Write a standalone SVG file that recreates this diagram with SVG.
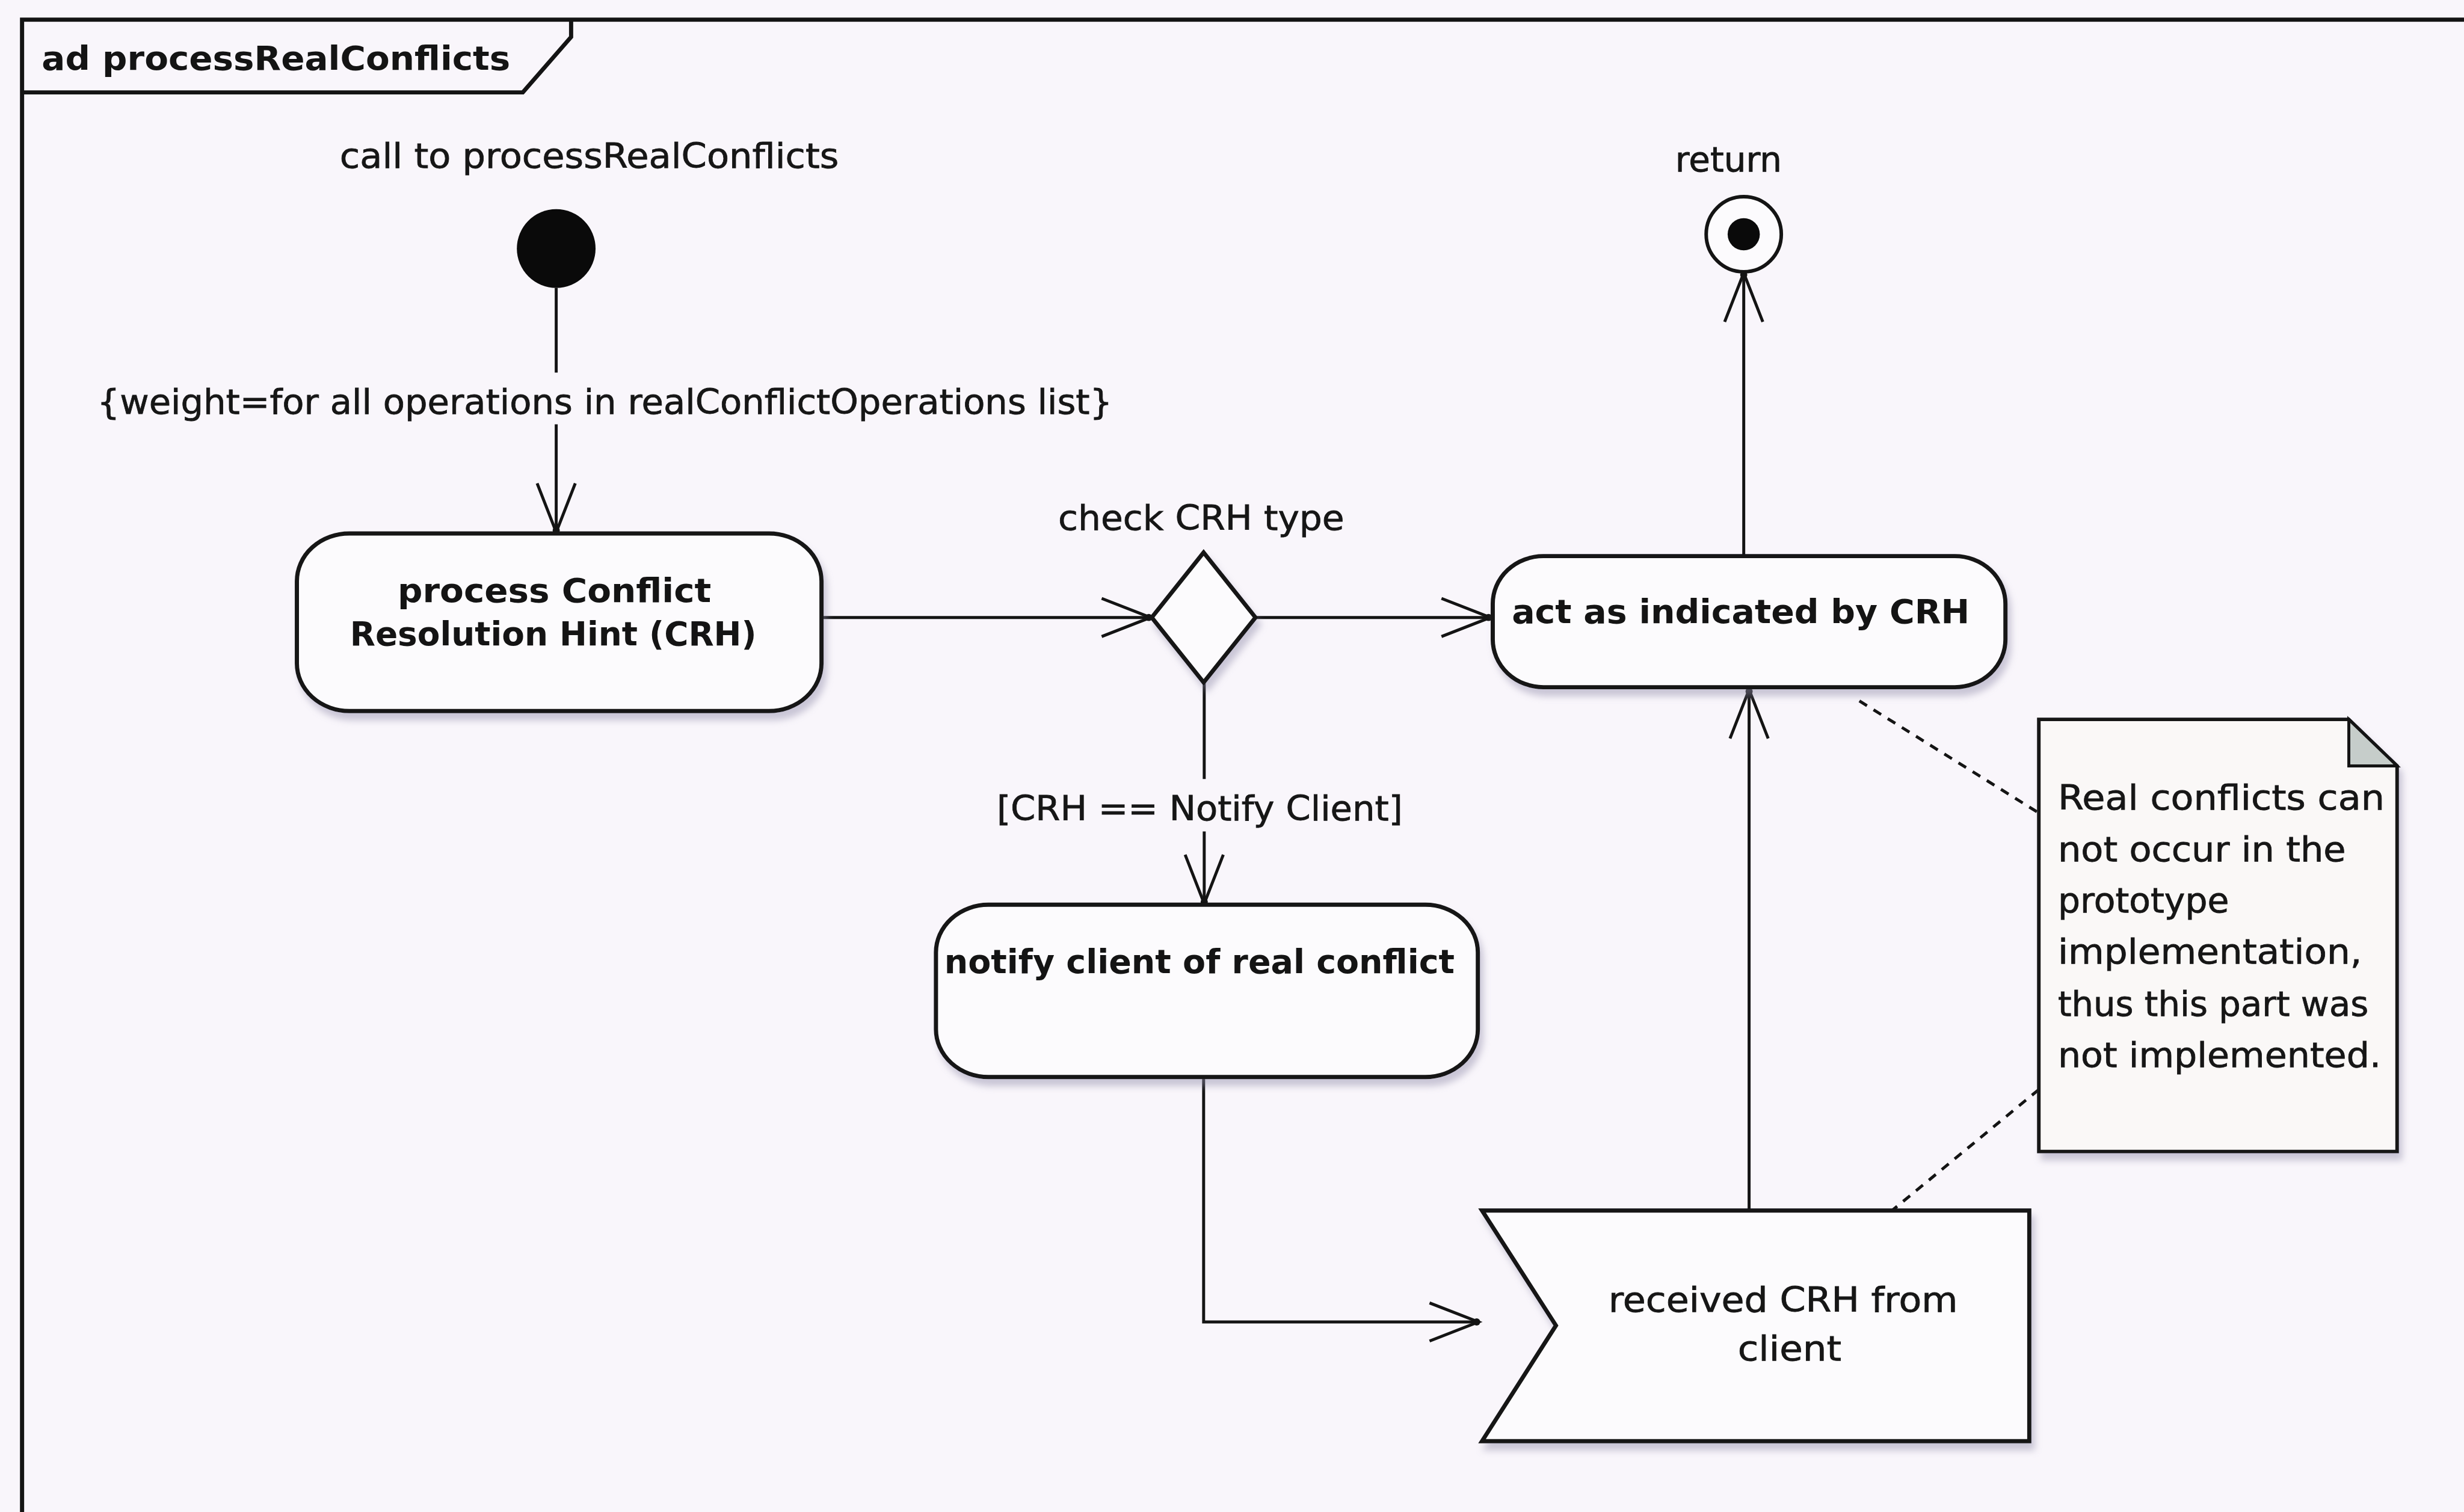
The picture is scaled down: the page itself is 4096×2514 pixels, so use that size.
<svg xmlns="http://www.w3.org/2000/svg" width="4096" height="2514" viewBox="0 0 4096 2514">
  <defs>
    <style>
      .frame { fill: none; stroke: #141414; stroke-width: 7; }
      .node { fill: #fcfbfd; stroke: #141414; stroke-width: 7; filter: url(#shadow); }
      .edge { fill: none; stroke: #141414; stroke-width: 5; }
      .dash { fill: none; stroke: #141414; stroke-width: 5; stroke-dasharray: 15 13; }
      .lbl { font-family: "DejaVu Sans", "Liberation Sans", sans-serif; font-size: 57px; fill: #161616; stroke: #161616; stroke-width: 0.8; }
      .bold { font-family: "DejaVu Sans", "Liberation Sans", sans-serif; font-size: 56px; font-weight: bold; fill: #141414; }
    </style>
    <filter id="shadow" x="-10%" y="-10%" width="130%" height="140%">
      <feDropShadow dx="6" dy="12" stdDeviation="6" flood-color="#8e8aa8" flood-opacity="0.45"/>
    </filter>
    <marker id="arrow" viewBox="-90 -40 100 80" refX="0" refY="0" markerWidth="100" markerHeight="80" markerUnits="userSpaceOnUse" orient="auto" overflow="visible">
      <path d="M-82,-32 L0,0 L-82,32" fill="none" stroke="#141414" stroke-width="5"/>
      <circle cx="-3" cy="0" r="6" fill="#141414"/>
    </marker>
  </defs>

  <rect width="4096" height="2514" fill="#f9f6fb"/>

  <g transform="scale(0.991)">
    <!-- diagram frame with name tab -->
    <g id="frame">
      <rect x="37" y="33" width="4300" height="2700" class="frame"/>
      <path d="M37 155 H877 L958 62 V33" class="frame"/>
      <text x="70" y="117" class="bold" textLength="786" lengthAdjust="spacingAndGlyphs">ad processRealConflicts</text>
    </g>

    <!-- control flows -->
    <g id="connectors">
      <path d="M933 483 V625" class="edge"/>
      <path d="M933 712 V893" class="edge" marker-end="url(#arrow)"/>
      <path d="M1378 1036 H1930" class="edge" marker-end="url(#arrow)"/>
      <path d="M2105 1036 H2500" class="edge" marker-end="url(#arrow)"/>
      <path d="M2925 933 V458" class="edge" marker-end="url(#arrow)"/>
      <path d="M2020 1143 V1307" class="edge"/>
      <path d="M2020 1395 V1516" class="edge" marker-end="url(#arrow)"/>
      <path d="M2019 1807 V2218 H2480" class="edge" marker-end="url(#arrow)"/>
      <path d="M2934 2030 V1157" class="edge" marker-end="url(#arrow)"/>
      <path d="M3119 1176 L3420 1364" class="dash"/>
      <path d="M3420 1828 L3175 2030" class="dash"/>

      <text x="570" y="282" class="lbl" textLength="837" lengthAdjust="spacingAndGlyphs">call to processRealConflicts</text>
      <text x="163" y="694" class="lbl" textLength="1703" lengthAdjust="spacingAndGlyphs">{weight=for all operations in realConflictOperations list}</text>
      <text x="1775" y="889" class="lbl" textLength="480" lengthAdjust="spacingAndGlyphs">check CRH type</text>
      <text x="2810" y="288" class="lbl" textLength="179" lengthAdjust="spacingAndGlyphs">return</text>
      <text x="1672" y="1376" class="lbl" textLength="681" lengthAdjust="spacingAndGlyphs">[CRH == Notify Client]</text>
    </g>

    <g id="initial">
      <circle cx="933" cy="417" r="66" fill="#0a0a0a"/>
    </g>

    <g id="final">
      <circle cx="2925" cy="393" r="63" fill="#fcfbfd" stroke="#141414" stroke-width="6"/>
      <circle cx="2925" cy="393" r="27" fill="#0a0a0a"/>
    </g>

    <g id="processCRH">
      <rect x="498" y="895" width="880" height="298" rx="88" ry="80" class="node"/>
      <text x="930" y="1010" class="bold" text-anchor="middle" textLength="526" lengthAdjust="spacingAndGlyphs">process Conflict</text>
      <text x="928" y="1083" class="bold" text-anchor="middle" textLength="682" lengthAdjust="spacingAndGlyphs">Resolution Hint (CRH)</text>
    </g>

    <g id="checkType">
      <path d="M2019 927 L2106 1036 L2019 1145 L1932 1036 Z" class="node" stroke-width="6"/>
    </g>

    <g id="actAsIndicated">
      <rect x="2504" y="933" width="860" height="220" rx="85" ry="80" class="node"/>
      <text x="2920" y="1045" class="bold" text-anchor="middle" textLength="768" lengthAdjust="spacingAndGlyphs">act as indicated by CRH</text>
    </g>

    <g id="notifyClient">
      <rect x="1570" y="1518" width="909" height="289" rx="88" ry="80" class="node"/>
      <text x="2012" y="1633" class="bold" text-anchor="middle" textLength="856" lengthAdjust="spacingAndGlyphs">notify client of real conflict</text>
    </g>

    <g id="receivedCRH">
      <path d="M2486 2031 H3404 V2418 H2486 L2610 2224 Z" class="node" stroke-width="6"/>
      <text x="2991" y="2201" class="lbl" text-anchor="middle" textLength="586" lengthAdjust="spacingAndGlyphs">received CRH from</text>
      <text x="3002" y="2283" class="lbl" text-anchor="middle" textLength="174" lengthAdjust="spacingAndGlyphs">client</text>
    </g>

    <g id="note">
      <path d="M3420 1207 H3940 L4021 1285 V1932 H3420 Z" fill="#faf8f7" stroke="#141414" stroke-width="6" filter="url(#shadow)"/>
      <path d="M3940 1207 V1285 H4021 Z" fill="#c6cdca" stroke="#141414" stroke-width="5"/>
      <text class="lbl" font-size="55">
        <tspan x="3452" y="1358" textLength="548" lengthAdjust="spacingAndGlyphs">Real conflicts can</tspan>
        <tspan x="3452" y="1445" textLength="483" lengthAdjust="spacingAndGlyphs">not occur in the</tspan>
        <tspan x="3452" y="1531" textLength="287" lengthAdjust="spacingAndGlyphs">prototype</tspan>
        <tspan x="3452" y="1617" textLength="510" lengthAdjust="spacingAndGlyphs">implementation,</tspan>
        <tspan x="3452" y="1704" textLength="521" lengthAdjust="spacingAndGlyphs">thus this part was</tspan>
        <tspan x="3452" y="1790" textLength="542" lengthAdjust="spacingAndGlyphs">not implemented.</tspan>
      </text>
    </g>
  </g>
</svg>
